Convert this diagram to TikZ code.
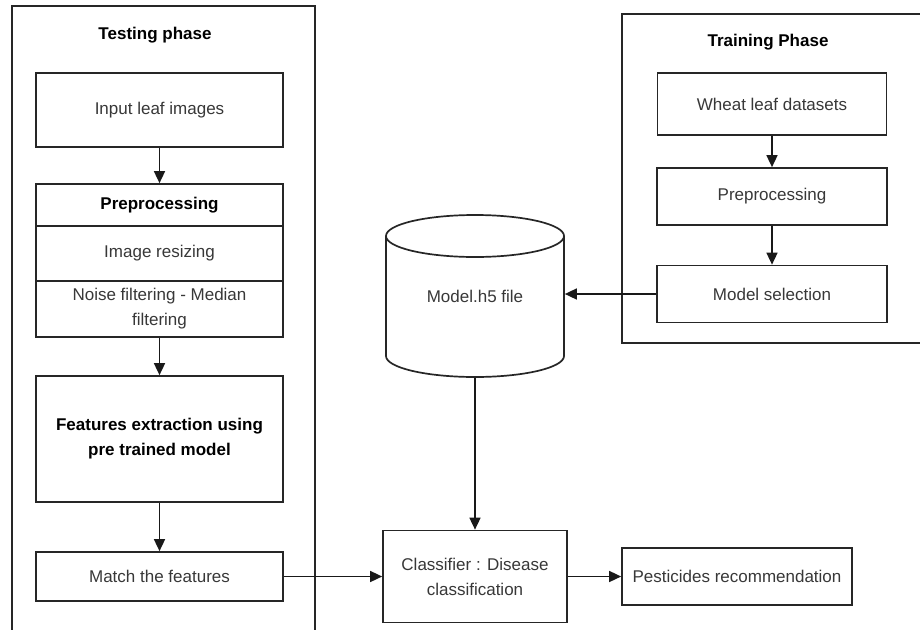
\documentclass[tikz,border=0pt]{standalone}
\usepackage{fontspec}
\setmainfont{Liberation Sans}
\usetikzlibrary{arrows.meta}
\begin{document}
\begin{tikzpicture}[x=1pt,y=1pt,
  line width=1.7pt,
  every node/.style={font=\fontsize{17}{25}\selectfont},
  box/.style={draw=black!85, line width=1.7pt, rectangle, inner sep=2pt, align=center, text=black!78},
  frame/.style={draw=black!85, line width=1.7pt},
  title/.style={font=\fontsize{17}{25}\selectfont\bfseries, text=black},
  arr/.style={draw=black!90, line width=1.6pt, -{Triangle[length=12pt,width=11pt]}}
]
\useasboundingbox (0,0) rectangle (920,-629);
\clip (0,0) rectangle (920,-629);
\fill[white] (0,0) rectangle (920,-629);

% outer frames
\draw[frame] (12,-640) -- (12,-6) -- (315,-6) -- (315,-640);
\draw[frame] (930,-343) -- (622,-343) -- (622,-14) -- (930,-14);

% testing phase
\node[title] (ttest) at (155,-35) {Testing phase};
\node[box, minimum width=247pt, minimum height=74pt] (input) at (159.5,-110) {Input leaf images};
\node[box, minimum width=247pt, minimum height=42pt, font=\fontsize{17}{25}\selectfont\bfseries, text=black] (pre) at (159.5,-205) {Preprocessing};
\node[box, minimum width=247pt, minimum height=55pt] (resize) at (159.5,-253.5) {Image resizing};
\node[box, minimum width=247pt, minimum height=56pt] (noise) at (159.5,-309) {Noise filtering - Median\\filtering};
\node[box, minimum width=247pt, minimum height=126pt, font=\fontsize{17}{25}\selectfont\bfseries, text=black] (feat) at (159.5,-439) {Features extraction using\\pre trained model};
\node[box, minimum width=247pt, minimum height=49pt] (match) at (159.5,-576.5) {Match the features};

% training phase
\node[title] (ttrain) at (768,-42) {Training Phase};
\node[box, minimum width=229pt, minimum height=62pt] (wheat) at (772,-104) {Wheat leaf datasets};
\node[box, minimum width=230pt, minimum height=57pt] (pre2) at (772,-196.5) {Preprocessing};
\node[box, minimum width=230pt, minimum height=57pt] (msel) at (772,-294) {Model selection};

% model cylinder
\node[rectangle, minimum width=178pt, minimum height=162pt, inner sep=0pt] (model) at (475,-296) {};
\draw[frame, fill=white] (386,-236) -- (386,-356) arc[start angle=180, end angle=360, x radius=89pt, y radius=21pt] -- (564,-236);
\draw[frame] (475,-236) ellipse [x radius=89pt, y radius=21pt];
\node[text=black!78] (modeltxt) at (model.center) {Model.h5 file};

% classifier and output
\node[box, minimum width=184pt, minimum height=92pt] (clf) at (475,-576.5) {Classifier : Disease\\classification};
\node[box, minimum width=230pt, minimum height=57pt] (pest) at (737,-576.5) {Pesticides recommendation};

% connectors
\draw[arr] (input) -- (pre);
\draw[arr] (noise) -- (feat);
\draw[arr] (feat) -- (match);
\draw[arr] (wheat) -- (pre2);
\draw[arr] (pre2) -- (msel);
\draw[arr] (msel.west) -- (msel.west -| model.east);
\draw[arr] (model.south) -- (clf.north);
\draw[arr] (match.east) -- (clf.west);
\draw[arr] (clf.east) -- (pest.west);
\end{tikzpicture}
\end{document}
